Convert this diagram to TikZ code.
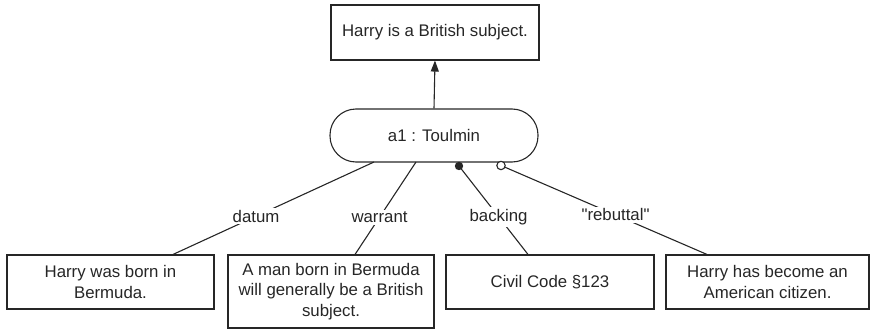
\documentclass[tikz,border=0pt]{standalone}
\usepackage{fontspec}
\setmainfont{Liberation Sans}
% same family without the TeX quote mapping, for straight quote marks
\newfontfamily\plainquotes{Liberation Sans}[Ligatures=ResetAll]
\usetikzlibrary{arrows.meta,calc}
\begin{document}
\begin{tikzpicture}[x=1pt,y=-1pt,
  every node/.style={font=\fontsize{16.8}{20.5}\selectfont, text=black!85},
  box/.style={draw=black!85, line width=1.1pt, align=center, inner sep=0pt},
  pill/.style={draw=black!85, line width=1.1pt, rounded corners=26pt, inner sep=0pt},
  link/.style={draw=black!85, line width=1.1pt},
  lbl/.style={fill=white, inner sep=2pt}]
\useasboundingbox (0,0) rectangle (870,329);

% claim and argument node
\node[box, minimum width=208pt, minimum height=55pt] (claim) at (435,32.5) {Harry is a British subject.};
\node[pill, minimum width=208pt, minimum height=53pt] (arg) at (434,135.5) {a1 : Toulmin};

% premises
\node[box, minimum width=207pt, minimum height=54pt] (datum) at (110.5,282) {Harry was born in\\Bermuda.};
\node[box, minimum width=206pt, minimum height=73pt] (warrant) at (331,291.5) {A man born in Bermuda\\will generally be a British\\subject.};
\node[box, minimum width=208pt, minimum height=54pt] (backing) at (550,282) {Civil Code \S123};
\node[box, minimum width=203pt, minimum height=54pt] (rebut) at (767.5,282) {Harry has become an\\American citizen.};

% attachment points on the argument node
\coordinate (aD) at (374,162);
\coordinate (aW) at (416,162);
\coordinate (aB) at (459,166);
\coordinate (aR) at (501,165.5);

% conclusion arrow
\draw[link, -{Triangle[length=11pt,width=8pt]}] (arg.north) -- (claim.south);

% premise links
\draw[link] (aD) -- node[lbl, pos=0.587] {datum} ($(datum.north)+(62.5,0)$);
\draw[link] (aW) -- node[lbl, pos=0.598] {warrant} ($(warrant.north)+(24,0)$);
\draw[link] (aB) -- node[lbl, pos=0.573] {backing} ($(backing.north)+(-22,0)$);
\draw[link] (aR) -- node[lbl, pos=0.556] {\plainquotes "rebuttal"} ($(rebut.north)+(-60.5,0)$);

% link end markers
\fill[black!85] (aB) circle (4.2pt);
\draw[link, fill=white] (aR) circle (4.2pt);
\end{tikzpicture}
\end{document}
